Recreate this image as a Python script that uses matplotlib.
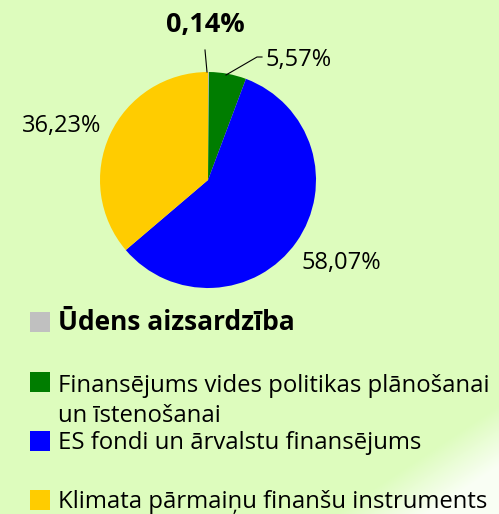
import numpy as np
import matplotlib
matplotlib.use("Agg")
import matplotlib.pyplot as plt
from matplotlib.patches import Rectangle

# ---- data ----
categories = ["Ūdens aizsardzība",
              "Finansējums vides politikas plānošanai\nun īstenošanai",
              "ES fondi un ārvalstu finansējums",
              "Klimata pārmaiņu finanšu instruments"]
values = [0.14, 5.57, 58.07, 36.23]
value_labels = ["0,14%", "5,57%", "58,07%", "36,23%"]
colors = ["#c0c0c0", "#007d00", "#0000ff", "#ffcc00"]

W, H = 499, 514
BG = "#ddfcbd"
plt.rcParams['font.family'] = ['Open Sans', 'DejaVu Sans']

fig = plt.figure(figsize=(W / 100, H / 100), dpi=100)
fig.patch.set_facecolor(BG)
ax = fig.add_axes([0, 0, 1, 1])
ax.set_facecolor(BG)

# soft white swoosh decoration in the lower right
yy, xx = np.mgrid[0:H, 0:W]
d = (xx - 370) * 0.55 - (514 - yy) * 0.83
alpha = np.clip((d + 20) / 60.0, 0, 0.85)
rgba = np.ones((H, W, 4))
rgba[..., 3] = alpha
ax.imshow(rgba, extent=(0, W, 0, H), origin='upper', zorder=0, interpolation='bilinear')

cx, cy, r = 208, H - 180, 108
ax.pie(values, colors=colors, startangle=90, counterclock=False,
       center=(cx, cy), radius=r, wedgeprops=dict(linewidth=0))
ax.set_xlim(0, W)
ax.set_ylim(0, H)
ax.set_aspect('equal')
ax.axis('off')

def Y(p):
    return H - p

# value labels
ax.text(205, Y(25), value_labels[0], fontsize=19.5, fontweight='bold',
        ha='center', va='center', color='black')
ax.plot([205, 207], [Y(50), Y(72)], color='black', lw=0.8)
ax.text(266, Y(60), value_labels[1], fontsize=17, ha='left', va='center', color='black')
ax.plot([226, 257, 262], [Y(75), Y(57), Y(57)], color='black', lw=0.8)
ax.text(381, Y(263), value_labels[2], fontsize=17, ha='right', va='center', color='black')
ax.text(101, Y(126), value_labels[3], fontsize=17, ha='right', va='center', color='black')

# legend
sq = 20
legend_rows = [  # square top (px), text center (px)
    (312, 323),
    (372, 401),
    (431, 443),
    (490, 502),
]
for i, (top, tc) in enumerate(legend_rows):
    ax.add_patch(Rectangle((30, Y(top + sq)), sq, sq, facecolor=colors[i],
                           edgecolor='none', zorder=3))
    if i == 0:
        ax.text(58, Y(tc), categories[i], fontsize=19, fontweight='bold',
                ha='left', va='center', color='black')
    else:
        ax.text(58, Y(tc), categories[i], fontsize=17.2, ha='left', va='center',
                color='black', linespacing=1.38)

fig.savefig("out.png", dpi=100, facecolor=BG)
